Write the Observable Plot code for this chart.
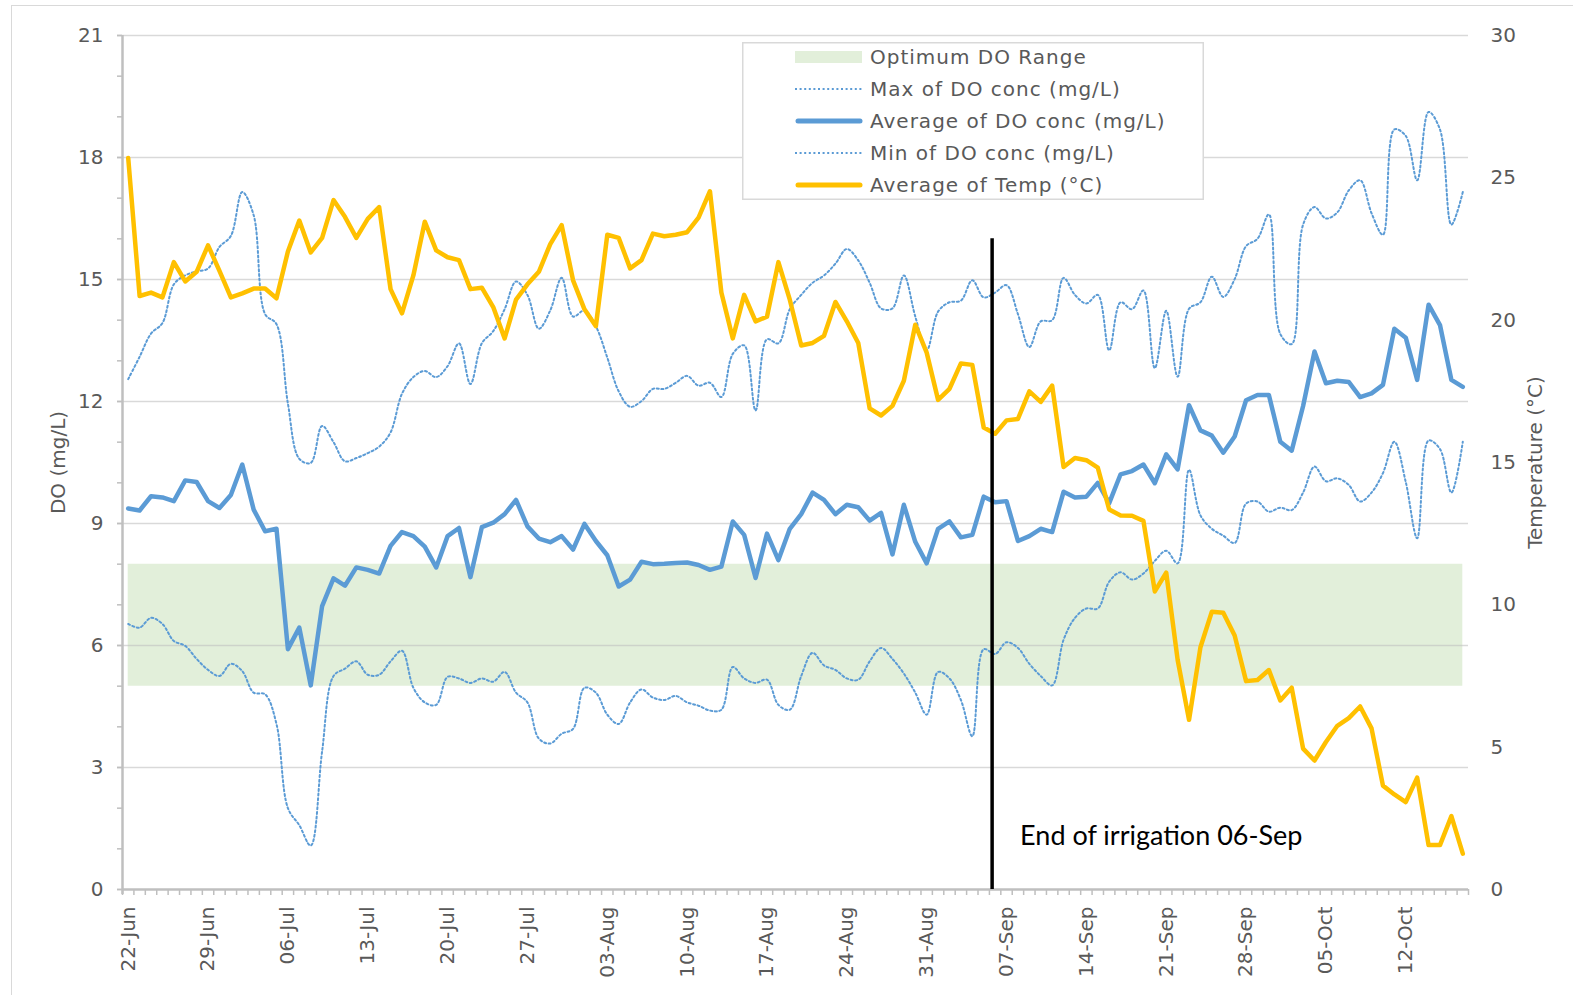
<!DOCTYPE html>
<html>
<head>
<meta charset="utf-8">
<script src="https://cdn.jsdelivr.net/npm/d3@7"></script>
<script src="https://cdn.jsdelivr.net/npm/@observablehq/plot@0.6"></script>
<style>
  body { margin: 0; background: #fff; }
  #wrap { position: relative; width: 1573px; height: 995px; overflow: hidden; background: #fff; }
  #frame { position: absolute; left: 11px; top: 5px; width: 1700px; height: 1200px;
           border-left: 1.5px solid #d9d9d9; border-top: 1.5px solid #d9d9d9; pointer-events: none; }
  #chart { position: absolute; left: 0; top: 0; }
  #legend { position: absolute; left: 742px; top: 42px; }
</style>
</head>
<body>
<div id="wrap">
  <div id="frame"></div>
  <div id="chart"></div>
  <div id="legend"></div>
</div>
<script>
// ---- data (one value per day, starting 22-Jun) ----
const startDay = "2019-06-22";
const irrigationEnd = "2019-09-06";
const annotation = "End of irrigation 06-Sep";
const optLow = 5, optHigh = 8;
const doTicks = [0, 3, 6, 9, 12, 15, 18, 21];
const tempTicks = [0, 5, 10, 15, 20, 25, 30];
const seriesNames = ["Optimum DO Range", "Max of DO conc (mg/L)", "Average of DO conc (mg/L)", "Min of DO conc (mg/L)", "Average of Temp (°C)"];

const avgDO = [9.37,9.32,9.67,9.64,9.55,10.06,10.02,9.55,9.38,9.70,10.45,9.34,8.81,8.87,5.91,6.44,5.02,6.97,7.65,7.47,
  7.92,7.86,7.77,8.45,8.79,8.69,8.43,7.92,8.69,8.89,7.68,8.91,9.02,9.23,9.58,8.93,8.63,8.54,8.69,8.36,
  8.99,8.57,8.22,7.45,7.62,8.06,8.00,8.01,8.03,8.04,7.98,7.86,7.94,9.05,8.72,7.66,8.75,8.10,8.87,9.23,
  9.76,9.58,9.23,9.46,9.40,9.07,9.26,8.24,9.46,8.55,8.02,8.87,9.05,8.66,8.72,9.66,9.52,9.55,8.57,8.69,
  8.87,8.79,9.78,9.64,9.66,10.00,9.50,10.21,10.29,10.45,9.99,10.70,10.33,11.91,11.29,11.16,10.74,11.14,12.03,12.16,
  12.16,11.01,10.79,11.89,13.23,12.45,12.51,12.48,12.11,12.20,12.41,13.79,13.57,12.53,14.38,13.88,12.53,12.36];

const maxDO = [12.55,13.10,13.67,13.93,14.88,15.10,15.20,15.27,15.80,16.07,17.15,16.58,14.15,13.90,11.95,10.59,10.49,11.40,11.00,10.53,
  10.61,10.73,10.89,11.24,12.19,12.60,12.75,12.60,12.87,13.43,12.43,13.43,13.73,14.27,14.95,14.62,13.79,14.24,15.04,14.09,
  14.24,13.85,13.08,12.25,11.87,12.01,12.31,12.31,12.46,12.63,12.39,12.46,12.11,13.17,13.38,11.78,13.53,13.43,14.27,14.62,
  14.92,15.10,15.39,15.75,15.47,14.92,14.29,14.29,15.10,14.09,13.26,14.21,14.44,14.48,14.98,14.56,14.68,14.86,14.15,13.34,
  13.97,14.00,15.04,14.62,14.41,14.62,13.26,14.44,14.27,14.73,12.82,14.23,12.61,14.28,14.44,15.07,14.57,15.01,15.82,16.00,
  16.60,13.66,13.41,16.35,16.78,16.50,16.65,17.19,17.44,16.63,16.10,18.69,18.53,17.44,19.12,18.69,16.35,17.15];

const minDO = [6.53,6.44,6.68,6.53,6.11,5.99,5.67,5.40,5.25,5.55,5.37,4.84,4.80,4.07,2.00,1.58,1.08,3.40,5.25,5.43,
  5.61,5.28,5.28,5.61,5.87,4.96,4.60,4.54,5.23,5.19,5.08,5.19,5.11,5.35,4.84,4.60,3.71,3.59,3.83,3.95,
  4.96,4.84,4.30,4.07,4.60,4.92,4.72,4.66,4.76,4.60,4.52,4.40,4.42,5.47,5.19,5.08,5.16,4.54,4.42,5.25,
  5.82,5.51,5.40,5.19,5.16,5.61,5.94,5.67,5.31,4.84,4.30,5.35,5.19,4.66,3.77,5.91,5.79,6.08,5.94,5.55,
  5.25,5.02,6.14,6.68,6.91,6.91,7.57,7.80,7.62,7.77,8.08,8.33,8.02,10.32,9.20,8.87,8.70,8.52,9.49,9.54,
  9.29,9.39,9.33,9.76,10.40,10.04,10.11,9.95,9.54,9.76,10.24,11.01,10.02,8.64,11.04,10.83,9.76,11.01];

const avgTemp = [25.70,20.85,20.97,20.80,22.04,21.36,21.70,22.63,21.73,20.80,20.94,21.11,21.11,20.77,22.41,23.50,22.38,22.89,24.22,23.63,
  22.89,23.56,23.97,21.09,20.24,21.57,23.46,22.45,22.21,22.11,21.09,21.14,20.46,19.36,20.72,21.26,21.70,22.67,23.34,21.40,
  20.38,19.79,23.00,22.89,21.82,22.11,23.04,22.95,23.00,23.09,23.60,24.53,20.97,19.36,20.89,19.96,20.12,22.04,20.72,19.11,
  19.20,19.45,20.64,19.96,19.20,16.90,16.65,16.99,17.87,19.84,18.86,17.20,17.59,18.48,18.43,16.23,16.01,16.48,16.53,17.50,
  17.13,17.70,14.84,15.16,15.08,14.82,13.35,13.14,13.13,12.95,10.47,11.13,8.07,5.96,8.51,9.76,9.72,8.92,7.32,7.36,
  7.71,6.64,7.09,4.95,4.53,5.18,5.75,6.02,6.43,5.66,3.65,3.34,3.07,3.93,1.56,1.56,2.58,1.26];

// ---- build ----
const blue = "#5b9bd5", orange = "#ffc000", green = "#e2efda", grey = "#bfbfbf", textGrey = "#595959";
const k = 21 / 30; // temperature -> DO axis
const start = new Date(startDay + "T00:00:00Z");
const endDate = new Date(irrigationEnd + "T00:00:00Z");
const dates = avgDO.map((_, i) => d3.utcDay.offset(start, i));
const rows = dates.map((date, i) => ({date, avg: avgDO[i], max: maxDO[i], min: minDO[i], temp: avgTemp[i]}));
const xDomain = [d3.utcHour.offset(dates[0], -12), d3.utcHour.offset(dates[dates.length - 1], 12)];
const boundaries = d3.range(dates.length + 1).map(i => d3.utcHour.offset(xDomain[0], 24 * i));
const weekTicks = dates.filter((_, i) => i % 7 === 0);
const dotted = {stroke: blue, strokeWidth: 2, strokeDasharray: "2,2.6", curve: "catmull-rom"};

const chart = Plot.plot({
  width: 1573, height: 995,
  marginLeft: 122, marginRight: 105, marginTop: 35, marginBottom: 106,
  x: {type: "utc", domain: xDomain},
  y: {domain: [0, 21]},
  style: {fontFamily: "DejaVu Sans", fontSize: "20px", background: "transparent", overflow: "visible"},
  marks: [
    Plot.areaY(rows, {x: "date", y1: () => optLow, y2: () => optHigh, fill: green}),
    Plot.ruleY(doTicks.filter(d => d > 0), {stroke: grey, strokeOpacity: 0.6, strokeWidth: 1.5}),
    Plot.axisX({ticks: boundaries, tickSize: 6, tickFormat: () => "", stroke: grey, strokeWidth: 1.5, label: null}),
    Plot.axisX({ticks: weekTicks, tickSize: 0, tickPadding: 17, tickRotate: -90, tickFormat: d3.utcFormat("%d-%b"), fill: textGrey, label: null}),
    Plot.axisY({ticks: d3.range(0, 22), tickSize: 5, tickFormat: () => "", stroke: grey, strokeWidth: 1.5, label: null}),
    Plot.axisY({ticks: doTicks, tickSize: 5, tickPadding: 14, stroke: grey, strokeWidth: 1.5, fill: textGrey, label: null}),
    Plot.axisY({anchor: "right", ticks: tempTicks.map(t => t * k), tickSize: 0, tickPadding: 22, tickFormat: d => String(Math.round(d / k)), fill: textGrey, label: null}),
    Plot.text(["DO (mg/L)"], {text: d => d, frameAnchor: "left", textAnchor: "middle", rotate: -90, dx: -64, fill: textGrey, fontSize: 20}),
    Plot.text(["Temperature (°C)"], {text: d => d, frameAnchor: "right", textAnchor: "middle", rotate: -90, dx: 67, fill: textGrey, fontSize: 20}),
    Plot.lineY(rows, {x: "date", y: "max", ...dotted}),
    Plot.lineY(rows, {x: "date", y: "min", ...dotted}),
    Plot.lineY(rows, {x: "date", y: "avg", stroke: blue, strokeWidth: 4.5, strokeLinejoin: "round"}),
    Plot.lineY(rows, {x: "date", y: d => d.temp * k, stroke: orange, strokeWidth: 4.5, strokeLinejoin: "round"}),
    Plot.ruleY([0], {stroke: grey, strokeWidth: 2.5}),
    Plot.ruleX([xDomain[0]], {y1: -0.12, y2: 21, stroke: grey, strokeWidth: 2.5}),
    Plot.ruleX([endDate], {y1: 0, y2: 16, stroke: "#000", strokeWidth: 3.5, dx: -3}),
    Plot.text([annotation], {text: d => d, x: () => endDate, y: () => 1.3, dx: 25, textAnchor: "start", fontFamily: "Lato", fontSize: 27, fill: "#000"})
  ]
});
document.getElementById("chart").appendChild(chart);

// ---- legend ----
const W = 462, H = 158;
const ys = [15, 47, 79, 111, 143];
const leg = d3.select("#legend").append("svg").attr("width", W).attr("height", H)
  .style("font-family", "DejaVu Sans").style("font-size", "20px");
leg.append("rect").attr("x", 0.75).attr("y", 0.75).attr("width", W - 1.5).attr("height", H - 1.5)
  .attr("fill", "#fff").attr("stroke", "#d9d9d9").attr("stroke-width", 1.5);
const sw = leg.append("g");
sw.append("rect").attr("x", 53).attr("y", ys[0] - 6).attr("width", 67).attr("height", 12).attr("fill", green);
[1, 3].forEach(i => sw.append("line").attr("x1", 53).attr("x2", 120).attr("y1", ys[i]).attr("y2", ys[i])
  .attr("stroke", blue).attr("stroke-width", 2).attr("stroke-dasharray", "2,2.6"));
sw.append("line").attr("x1", 56).attr("x2", 118).attr("y1", ys[2]).attr("y2", ys[2])
  .attr("stroke", blue).attr("stroke-width", 5).attr("stroke-linecap", "round");
sw.append("line").attr("x1", 56).attr("x2", 118).attr("y1", ys[4]).attr("y2", ys[4])
  .attr("stroke", orange).attr("stroke-width", 5).attr("stroke-linecap", "round");
leg.selectAll("text.lab").data(seriesNames).join("text").attr("class", "lab")
  .attr("x", 128).attr("y", (d, i) => ys[i]).attr("dy", "0.35em")
  .attr("fill", textGrey).style("letter-spacing", "1px").text(d => d);
</script>
</body>
</html>
